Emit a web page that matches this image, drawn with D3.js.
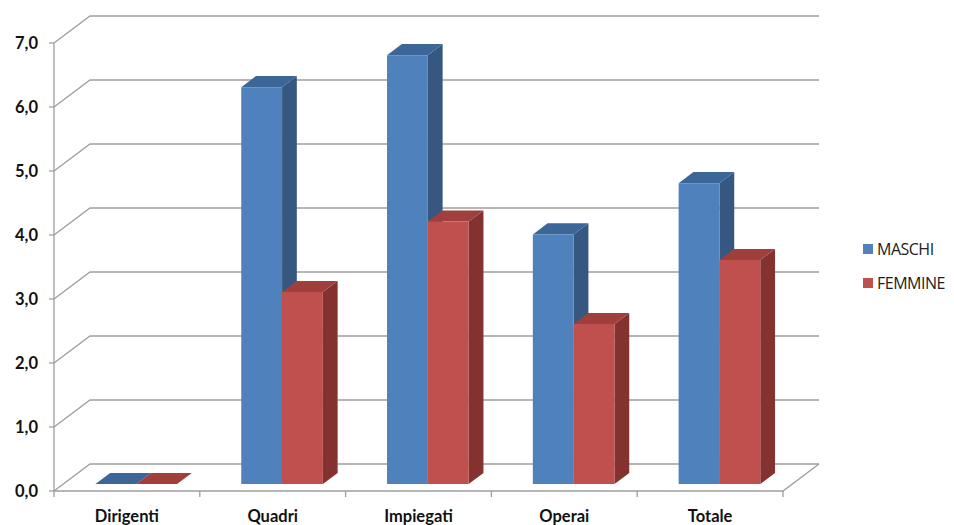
<!DOCTYPE html>
<html>
<head>
<meta charset="utf-8">
<script src="https://cdn.jsdelivr.net/npm/d3@7"></script>
<style>
body { margin: 0; background: #fff; }
svg { display: block; }
</style>
</head>
<body>
<script>
var categories = ["Dirigenti", "Quadri", "Impiegati", "Operai", "Totale"];
var seriesNames = ["MASCHI", "FEMMINE"];
var maschi = [0, 6.2, 6.7, 3.9, 4.7];
var femmine = [0, 3.0, 4.1, 2.5, 3.5];
var yTicks = [0, 1, 2, 3, 4, 5, 6, 7];

var w = 954, h = 525;
var x0 = 54, x1 = 783;          // front plane, left/right
var DX = 36, DY = 27;           // depth offset of the back wall
var zFront = 0.26, zBack = 0.67; // bar depth within the floor

var colors = {
    MASCHI:  {front: "#4f81bd", top: "#3d6698", side: "#36577f"},
    FEMMINE: {front: "#c0504d", top: "#a03f3c", side: "#833230"}
};

var svg = d3.select("body")
    .append("svg")
    .attr("width", w)
    .attr("height", h);

var yScale = d3.scaleLinear()
    .domain([0, 7])
    .range([491, 43]);

var xScale = d3.scaleBand()
    .domain(categories)
    .range([x0, x1])
    .paddingInner(0.44)
    .paddingOuter(0.22);

var xSub = d3.scaleBand()
    .domain(seriesNames)
    .range([0, xScale.bandwidth()]);

// project a front-plane x, a value and a depth (0 front .. 1 back) to pixels
function pt(x, v, z) {
    return [x + DX * z, yScale(v) - DY * z];
}
var line = d3.line();

// walls and gridlines
var grid = svg.append("g")
    .attr("fill", "none")
    .attr("stroke", "#9e9e9e")
    .attr("stroke-width", 1.3);

grid.selectAll(".grid")
    .data(yTicks)
    .enter()
    .append("path")
    .attr("d", function (t) {
        return line([pt(x0, t, 0), pt(x0, t, 1), pt(x1, t, 1)]);
    });

// floor
grid.append("path")
    .attr("d", line([pt(x0, 0, 0), pt(x1, 0, 0), pt(x1, 0, 1)]));

// front value axis
grid.append("path")
    .attr("d", line([pt(x0, 7, 0), pt(x0, 0, 0)]));

grid.selectAll(".ytick")
    .data(yTicks)
    .enter()
    .append("line")
    .attr("x1", x0 - 5)
    .attr("x2", x0)
    .attr("y1", function (t) { return yScale(t); })
    .attr("y2", function (t) { return yScale(t); });

// category ticks along the floor front edge
var step = xScale.step();
grid.selectAll(".xtick")
    .data(d3.range(categories.length + 1))
    .enter()
    .append("line")
    .attr("x1", function (i) { return x0 + i * step; })
    .attr("x2", function (i) { return x0 + i * step; })
    .attr("y1", yScale(0))
    .attr("y2", yScale(0) + 6);

// bars
var bars = [];
categories.forEach(function (c, i) {
    bars.push({cat: c, s: "MASCHI", v: maschi[i]});
    bars.push({cat: c, s: "FEMMINE", v: femmine[i]});
});

var barG = svg.selectAll(".bar")
    .data(bars)
    .enter()
    .append("g")
    .attr("class", "bar");

function xl(d) { return xScale(d.cat) + xSub(d.s); }
function xr(d) { return xl(d) + xSub.bandwidth(); }

barG.append("path")
    .attr("fill", function (d) { return colors[d.s].side; })
    .attr("d", function (d) {
        return line([pt(xr(d), 0, zFront), pt(xr(d), d.v, zFront),
                     pt(xr(d), d.v, zBack), pt(xr(d), 0, zBack)]) + "Z";
    });

barG.append("path")
    .attr("fill", function (d) { return colors[d.s].top; })
    .attr("d", function (d) {
        return line([pt(xl(d), d.v, zFront), pt(xr(d), d.v, zFront),
                     pt(xr(d), d.v, zBack), pt(xl(d), d.v, zBack)]) + "Z";
    });

barG.append("path")
    .attr("fill", function (d) { return colors[d.s].front; })
    .attr("d", function (d) {
        return line([pt(xl(d), 0, zFront), pt(xr(d), 0, zFront),
                     pt(xr(d), d.v, zFront), pt(xl(d), d.v, zFront)]) + "Z";
    });

// y labels
svg.selectAll(".ylabel")
    .data(yTicks)
    .enter()
    .append("text")
    .attr("x", 38)
    .attr("y", function (t) { return yScale(t); })
    .attr("dy", "0.36em")
    .attr("text-anchor", "end")
    .attr("font-family", "Lato, 'Open Sans', sans-serif")
    .attr("font-weight", "bold")
    .attr("font-size", 16.5)
    .attr("fill", "#111")
    .text(function (t) { return t.toFixed(1).replace(".", ","); });

// category labels
svg.selectAll(".xlabel")
    .data(categories)
    .enter()
    .append("text")
    .attr("x", function (c) { return xScale(c) + xScale.bandwidth() / 2; })
    .attr("y", 522)
    .attr("text-anchor", "middle")
    .attr("font-family", "Lato, 'Open Sans', sans-serif")
    .attr("font-weight", "bold")
    .attr("font-size", 16.5)
    .attr("fill", "#111")
    .text(function (c) { return c; });

// legend
var legend = svg.selectAll(".legend")
    .data(seriesNames)
    .enter()
    .append("g")
    .attr("transform", function (d, i) { return "translate(863," + (244 + i * 34) + ")"; });

legend.append("rect")
    .attr("width", 10)
    .attr("height", 10)
    .attr("fill", function (d) { return colors[d].front; });

legend.append("text")
    .attr("x", 14)
    .attr("y", 11)
    .attr("font-family", "'Open Sans', sans-serif")
    .attr("font-size", 16)
    .attr("letter-spacing", -0.5)
    .attr("fill", "#222")
    .text(function (d) { return d; });
</script>
</body>
</html>
